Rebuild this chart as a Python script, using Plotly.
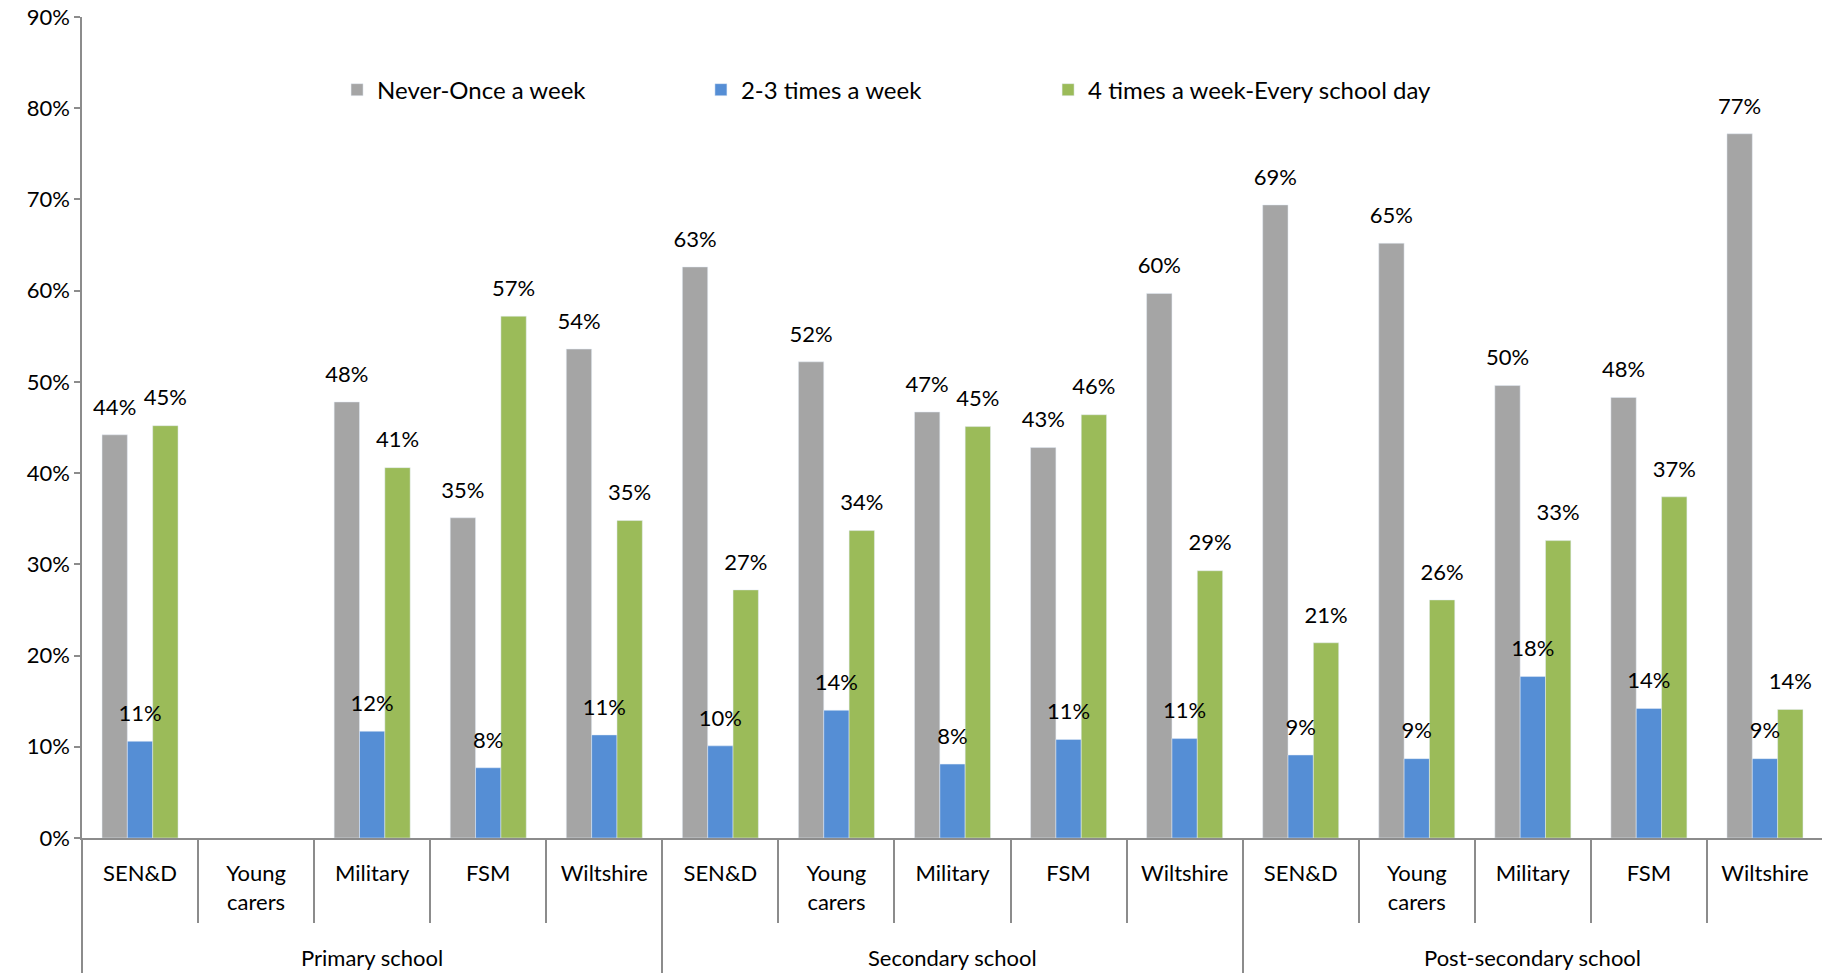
import plotly.graph_objects as go

# ── Data ──────────────────────────────────────────────────────────────────────
groups = ["Primary school", "Secondary school", "Post-secondary school"]
subgroups = ["SEN&D", "Young<br>carers", "Military", "FSM", "Wiltshire"]

series_names = ["Never-Once a week", "2-3 times a week", "4 times a week-Every school day"]
never_once = [0.442, None, 0.478, 0.351, 0.536,
              0.626, 0.522, 0.467, 0.428, 0.597,
              0.694, 0.652, 0.496, 0.483, 0.772]
two_three = [0.106, None, 0.117, 0.077, 0.113,
             0.101, 0.140, 0.081, 0.108, 0.109,
             0.091, 0.087, 0.177, 0.142, 0.087]
four_plus = [0.452, None, 0.406, 0.572, 0.348,
             0.272, 0.337, 0.451, 0.464, 0.293,
             0.214, 0.261, 0.326, 0.374, 0.141]

colors = ["#A5A5A5", "#558ED5", "#9BBB59"]

# ── Build ─────────────────────────────────────────────────────────────────────
FONT = "Lato, 'Open Sans', sans-serif"
AXIS_GREY = "#8C8C8C"
BARGAP = 0.345

n_cat = len(subgroups) * len(groups)
x_idx = list(range(n_cat))
tick_text = subgroups * len(groups)
rng = [-0.5, n_cat - 0.5]
bar_w = (1 - BARGAP) / len(series_names)

# page body has an 8px margin, so the figure is drawn 8px in from the corner
legend_x = [0.1465, 0.3555, 0.5549]
legend_keys = ["legend", "legend2", "legend3"]

fig = go.Figure()
for k, (name, vals, col) in enumerate(zip(series_names, [never_once, two_three, four_plus], colors)):
    centre = (k - (len(series_names) - 1) / 2) * bar_w
    fig.add_trace(go.Bar(
        x=x_idx, y=vals, name=name, marker_color=col,
        width=bar_w, offset=centre - bar_w / 2,
        legend=legend_keys[k],
    ))
    # value labels, lifted off the bar top like the original
    fig.add_trace(go.Scatter(
        x=[i + centre for i in x_idx], y=vals,
        text=[None if v is None else f"{v:.0%}" for v in vals],
        mode="markers+text", textposition="top center",
        marker=dict(size=22, opacity=0), cliponaxis=False,
        textfont=dict(size=22, color="#000000", family=FONT),
        showlegend=False, hoverinfo="skip",
    ))

# invisible carriers so the overlay axes (boundary ticks) get drawn
for ax in ("x2", "x3"):
    fig.add_trace(go.Scatter(
        x=rng, y=[0, 0], xaxis=ax, mode="markers",
        marker=dict(opacity=0), showlegend=False, hoverinfo="skip",
    ))

common_tick_axis = dict(
    overlaying="x", anchor="y", side="bottom", type="linear", range=rng,
    ticks="outside", tickwidth=1.5, tickcolor=AXIS_GREY,
    showticklabels=False, showgrid=False, zeroline=False, showline=False,
    automargin=False,
)

legend_common = dict(
    orientation="h", y=0.911, xanchor="left", yanchor="middle",
    itemwidth=30, font=dict(size=24), bgcolor="rgba(0,0,0,0)",
)

fig.update_layout(
    width=1822, height=965,
    paper_bgcolor="white", plot_bgcolor="white",
    font=dict(family=FONT, size=22, color="#000000"),
    margin=dict(l=74, r=7, t=9, b=135),
    barmode="overlay",
    legend=dict(x=legend_x[0], **legend_common),
    legend2=dict(x=legend_x[1], **legend_common),
    legend3=dict(x=legend_x[2], **legend_common),
    xaxis=dict(
        range=rng, tickvals=x_idx, ticktext=tick_text, ticks="",
        showline=True, linecolor=AXIS_GREY, linewidth=1.5,
        showgrid=False, zeroline=False, tickfont=dict(size=22),
        ticklabelstandoff=15, automargin=False,
    ),
    # category boundary ticks
    xaxis2=dict(tickvals=[i - 0.5 for i in range(n_cat + 1)], ticklen=84,
                **common_tick_axis),
    # group boundary ticks
    xaxis3=dict(tickvals=[g * len(subgroups) - 0.5 for g in range(len(groups) + 1)],
                ticklen=140, **common_tick_axis),
    yaxis=dict(
        range=[0, 0.9], dtick=0.1, tickformat=".0%",
        ticks="outside", ticklen=6, tickcolor=AXIS_GREY, tickwidth=1.5,
        showline=True, linecolor=AXIS_GREY, linewidth=1.5,
        showgrid=False, zeroline=False, tickfont=dict(size=22),
        ticklabeloverflow="allow", automargin=False,
    ),
)

for g, label in enumerate(groups):
    fig.add_annotation(
        x=g * len(subgroups) + (len(subgroups) - 1) / 2, xref="x",
        y=0, yref="paper", yanchor="middle", yshift=-119,
        text=label, showarrow=False, font=dict(size=22),
    )

fig.write_html("out.html")
